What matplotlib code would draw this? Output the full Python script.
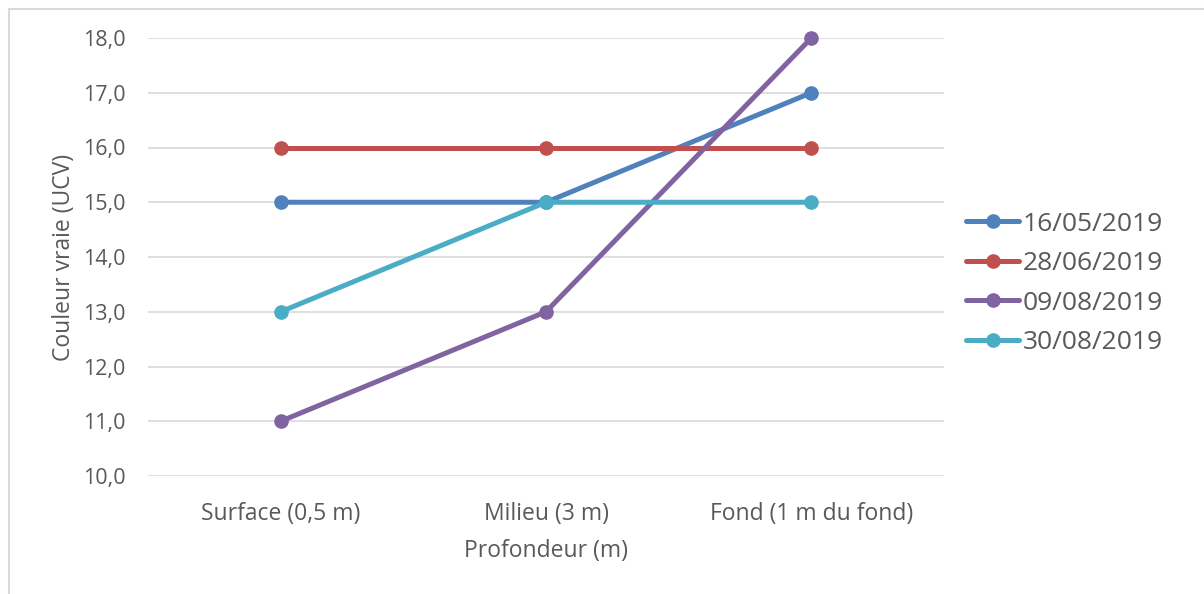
import matplotlib
matplotlib.use("Agg")
import matplotlib.pyplot as plt
from matplotlib.patches import Rectangle

# Couleur vraie par profondeur, une série par campagne
profondeurs = ["Surface (0,5 m)", "Milieu (3 m)", "Fond (1 m du fond)"]
dates = ["16/05/2019", "28/06/2019", "09/08/2019", "30/08/2019"]
v_16_05 = [15.0, 15.0, 17.0]
v_28_06 = [16.0, 16.0, 16.0]
v_09_08 = [11.0, 13.0, 18.0]
v_30_08 = [13.0, 15.0, 15.0]
series = [v_16_05, v_28_06, v_09_08, v_30_08]
colors = ["#4F81BD", "#C0504D", "#8064A2", "#4BACC6"]
yticks = [10, 11, 12, 13, 14, 15, 16, 17, 18]

TXT = "#595959"
FS = 16.5
plt.rcParams["font.family"] = ["Open Sans", "DejaVu Sans"]

W, H = 1204, 594
fig = plt.figure(figsize=(W / 100, H / 100), dpi=100)
ax = fig.add_axes([148 / W, 1 - 476 / H, (944 - 148) / W, (476 - 38) / H])

x = range(len(profondeurs))
for vals, lab, c in zip(series, dates, colors):
    ax.plot(x, vals, color=c, lw=3.6, marker="o", ms=9.5, label=lab,
            solid_capstyle="round", zorder=3, clip_on=False)

ax.set_xlim(-0.5, len(profondeurs) - 0.5)
ax.set_ylim(10, 18)
ax.set_yticks(yticks)
ax.set_yticklabels([f"{v:.1f}".replace(".", ",") for v in yticks])
ax.set_xticks(list(x))
ax.set_xticklabels(profondeurs)
ax.tick_params(length=0, colors=TXT)
ax.tick_params(axis="y", pad=16, labelsize=15.5)
ax.tick_params(axis="x", pad=19, labelsize=FS)
ax.grid(axis="y", color="#D9D9D9", lw=1.2, zorder=0)
for s in ax.spines.values():
    s.set_visible(False)

ax.set_ylabel("Couleur vraie (UCV)", fontsize=FS, color=TXT, labelpad=5)
ax.set_xlabel("Profondeur (m)", fontsize=FS, color=TXT, labelpad=9)

leg = ax.legend(loc="center left", bbox_to_anchor=(1.028, 0.44), frameon=False,
                fontsize=19, handlelength=2.0, handletextpad=0.15,
                labelspacing=0.55, borderaxespad=0, borderpad=0)
for t in leg.get_texts():
    t.set_color(TXT)

# cadre du graphique
fig.patches.append(Rectangle((9 / W, -0.1), 1.2, 1 - 9 / H + 0.1,
                             transform=fig.transFigure, fill=False,
                             edgecolor="#D9D9D9", lw=1.5))

fig.savefig("out.png", dpi=100)
